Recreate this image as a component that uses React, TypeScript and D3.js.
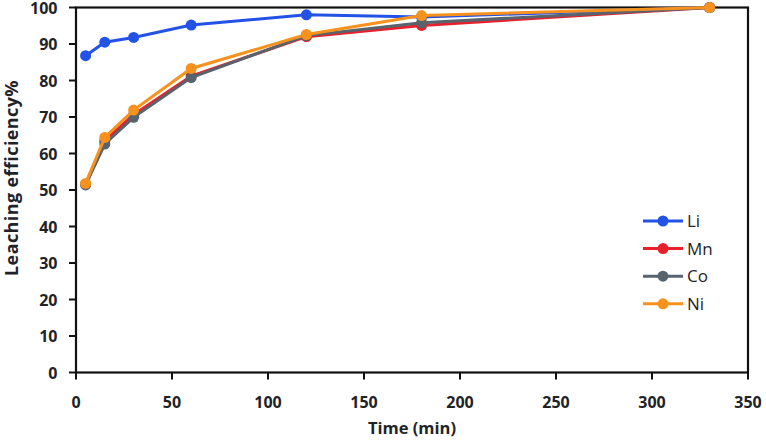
import React from "react";
import * as d3 from "d3";

const times = [5, 15, 30, 60, 120, 180, 330];
const li = [86.8, 90.5, 91.8, 95.2, 98.0, 97.4, 100];
const mn = [51.6, 63.5, 70.6, 81.2, 92.0, 95.1, 100];
const co = [51.4, 62.6, 69.9, 80.8, 92.3, 95.8, 100];
const ni = [51.8, 64.4, 71.9, 83.3, 92.6, 97.8, 100];
const seriesNames = ["Li", "Mn", "Co", "Ni"];
const seriesColors = ["#2352E6", "#E8202C", "#58646D", "#F7921E"];
const xTicks = [0, 50, 100, 150, 200, 250, 300, 350];
const yTicks = [0, 10, 20, 30, 40, 50, 60, 70, 80, 90, 100];

const W = 766, H = 443;
const M = { left: 76, right: 748, top: 7.5, bottom: 372.5 };

export default function App() {
  const x = d3.scaleLinear().domain([0, 350]).range([M.left, M.right]);
  const y = d3.scaleLinear().domain([0, 100]).range([M.bottom, M.top]);
  const line = d3.line<[number, number]>().x(d => x(d[0])).y(d => y(d[1]));
  const all = [li, mn, co, ni];
  const font = "'Open Sans', sans-serif";
  const txt = "#1f2328";
  return (
    <svg width={W} height={H} style={{ position: "absolute", left: 0, top: 0 }}>
      <rect x={0} y={0} width={W} height={H} fill="#fff" />
      <rect x={M.left} y={M.top} width={M.right - M.left} height={M.bottom - M.top} fill="none" stroke="#111" strokeWidth={2.2} />
      {yTicks.map(t => (
        <g key={"y" + t}>
          <line x1={M.left - 7} x2={M.left} y1={y(t)} y2={y(t)} stroke="#111" strokeWidth={2} />
          <text x={57.5} y={y(t) + 6.3} textAnchor="end" fontFamily={font} fontWeight={700} fontSize={16} fill={txt}>{t}</text>
        </g>
      ))}
      {xTicks.map(t => (
        <g key={"x" + t}>
          <line x1={x(t)} x2={x(t)} y1={M.bottom} y2={M.bottom + 7} stroke="#111" strokeWidth={2} />
          <text x={x(t)} y={407.5} textAnchor="middle" fontFamily={font} fontWeight={700} fontSize={16} fill={txt}>{t}</text>
        </g>
      ))}
      <text x={412} y={434} textAnchor="middle" fontFamily={font} fontWeight={700} fontSize={16.5} fill={txt}>Time (min)</text>
      <text transform="translate(17.5,178) rotate(-90)" textAnchor="middle" fontFamily={font} fontWeight={700} fontSize={18} letterSpacing={0.4} fill={txt}>Leaching efficiency%</text>
      {all.map((vals, i) => {
        const pts: [number, number][] = times.map((t, j) => [t, vals[j]]);
        return (
          <g key={seriesNames[i]}>
            <path d={line(pts) || ""} fill="none" stroke={seriesColors[i]} strokeWidth={3} />
            {pts.map((p, j) => (
              <circle key={j} cx={x(p[0])} cy={y(p[1])} r={5.5} fill={seriesColors[i]} />
            ))}
          </g>
        );
      })}
      {seriesNames.map((n, i) => {
        const ly = 221 + i * 27.6;
        return (
          <g key={"lg" + n}>
            <line x1={643} x2={683} y1={ly} y2={ly} stroke={seriesColors[i]} strokeWidth={3} />
            <circle cx={663} cy={ly} r={5.5} fill={seriesColors[i]} />
            <text x={687} y={ly + 6} fontFamily={font} fontWeight={500} fontSize={17} fill={txt}>{n}</text>
          </g>
        );
      })}
    </svg>
  );
}
